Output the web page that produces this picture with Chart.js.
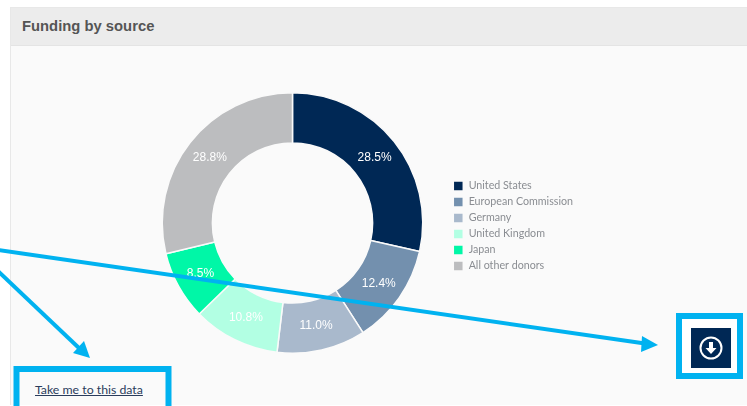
<!DOCTYPE html>
<html>
<head>
<meta charset="utf-8">
<script src="https://cdn.jsdelivr.net/npm/chart.js@4/dist/chart.umd.min.js"></script>
<style>
  html, body { margin: 0; padding: 0; background: #fff; }
  #page { position: relative; width: 747px; height: 406px; overflow: hidden; }
  #panel { position: absolute; left: 10px; top: 7px; width: 737px; height: 398px; background: #fafafa; box-sizing: border-box; border-left: 1px solid #e8e8e8; border-top: 1px solid #e8e8e8; }
  #head { height: 37px; background: #ececec; border-bottom: 1px solid #e4e4e4; }
  #head span { position: absolute; left: 11px; top: 10px; font: bold 14.8px "Liberation Sans", Arial, sans-serif; color: #555; }
  #wrap { position: absolute; left: 139px; top: 92px; width: 442px; height: 262px; }
  #link { position: absolute; left: 35px; top: 382px; font: 12.3px Lato, sans-serif; color: #2a3c5c; text-decoration: underline; }
  #notes { position: absolute; left: 0; top: 0; }
</style>
</head>
<body>
<div id="page">
  <div id="panel"><div id="head"><span>Funding by source</span></div></div>
  <div id="wrap"><canvas id="donut" width="442" height="262"></canvas></div>
  <a id="link">Take me to this data</a>
  <svg id="notes" width="747" height="406">
    <g fill="none" stroke="#00b2f0">
      <rect x="16.5" y="369" width="152" height="60" stroke-width="6"/>
      <rect x="679" y="316" width="61" height="60" stroke-width="6" fill="#fff"/>
      <line x1="-2" y1="250" x2="645" y2="343.5" stroke-width="4"/>
      <line x1="-2" y1="271" x2="80" y2="349" stroke-width="4"/>
    </g>
    <polygon points="658,345 642,336 641,352" fill="#00b2f0"/>
    <polygon points="90,358 73,353 84,341" fill="#00b2f0"/>
    <rect x="691" y="328" width="40" height="40" fill="#002855"/>
    <circle cx="711" cy="348" r="10.5" fill="none" stroke="#fff" stroke-width="2"/>
    <path d="M709 342h4v6h3.5l-5.5 6-5.5-6h3.5z" fill="#fff"/>
  </svg>
</div>
<script>
const donors = ['United States', 'European Commission', 'Germany', 'United Kingdom', 'Japan', 'All other donors'];
const shares = [28.5, 12.4, 11.0, 10.8, 8.5, 28.8];
const sliceColors = ['#002855', '#7390ae', '#a9b9cc', '#b2ffe3', '#00f7a7', '#bcbdbf'];

// percent text in the middle of each slice
const sliceLabels = {
  id: 'sliceLabels',
  afterDatasetsDraw(chart) {
    const ctx = chart.ctx;
    ctx.save();
    ctx.fillStyle = '#fff';
    ctx.font = '12px "Liberation Sans", Arial, sans-serif';
    ctx.textAlign = 'center';
    ctx.textBaseline = 'middle';
    chart.getDatasetMeta(0).data.forEach((arc, i) => {
      const p = arc.tooltipPosition();
      ctx.fillText(shares[i].toFixed(1) + '%', p.x, p.y);
    });
    ctx.restore();
  }
};

// nudge the legend, it sits a bit lower and further right than the default
const legendNudge = {
  id: 'legendNudge',
  afterLayout(chart) {
    const lg = chart.legend;
    lg.left += 2;
    lg.right += 2;
    lg.top += 3;
    lg.bottom += 3;
  }
};

new Chart(document.getElementById('donut'), {
  type: 'doughnut',
  data: {
    labels: donors,
    datasets: [{
      data: shares,
      backgroundColor: sliceColors,
      borderColor: '#fafafa',
      borderWidth: 1.5
    }]
  },
  options: {
    responsive: false,
    animation: false,
    cutout: '61.5%',
    layout: { padding: 0 },
    plugins: {
      tooltip: { enabled: false },
      legend: {
        position: 'right',
        labels: {
          boxWidth: 10,
          boxHeight: 10,
          padding: 5.3,
          color: '#8a8d92',
          font: { family: 'Lato', size: 10.7 }
        }
      }
    }
  },
  plugins: [sliceLabels, legendNudge]
});
</script>
</body>
</html>
